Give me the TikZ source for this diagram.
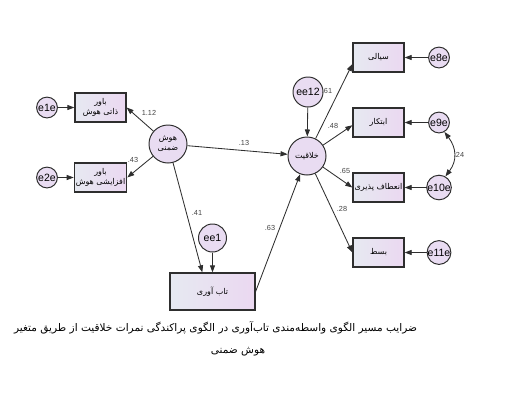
\documentclass[tikz,border=0pt]{standalone}
\usepackage{fontspec}
\setmainfont{Liberation Sans}
\newfontfamily\fa[Script=Arabic]{DejaVu Sans}
\TeXXeTstate=1
\usetikzlibrary{arrows.meta}
\definecolor{edge}{HTML}{2E2E2E}
\definecolor{boxleft}{HTML}{E6E9F1}
\definecolor{boxright}{HTML}{EBD8F1}
\definecolor{lilac}{HTML}{E9DCF2}
\definecolor{coefgray}{HTML}{444444}
\newcommand{\fat}[1]{{\fa\beginR #1\endR}}

\begin{document}
\begin{tikzpicture}[x=0.025cm,y=-0.025cm,
  obs/.style={draw=edge,line width=0.9pt,left color=boxleft,right color=boxright,minimum width=1.275cm,minimum height=0.725cm,inner sep=1pt,align=center,font=\fontsize{5.7}{7}\selectfont},
  lat/.style={circle,draw=edge,line width=0.7pt,fill=lilac,minimum size=0.95cm,inner sep=0pt,align=center,font=\fontsize{5.7}{7}\selectfont},
  err/.style={circle,draw=edge,line width=0.7pt,fill=lilac,minimum size=0.52cm,inner sep=0pt,font=\fontsize{7.5}{8}\selectfont},
  reg/.style={draw=edge,line width=0.6pt,-{Triangle[length=5pt,width=3.6pt]}},
  cov/.style={draw=edge,line width=0.6pt,{Triangle[length=5pt,width=3.6pt]}-{Triangle[length=5pt,width=3.6pt]}},
  coef/.style={text=coefgray,font=\fontsize{5.2}{6}\selectfont,inner sep=0pt}]
\useasboundingbox (0,0) rectangle (514,404);
% exogenous side
\node[obs] (b1) at (100.5,107.5) {\fat{باور}\\\fat{ذاتی هوش}};
\node[obs] (b2) at (100.5,177.5) {\fat{باور}\\\fat{افزایشی هوش}};
\node[err] (e1e) at (47,107.5) {e1e}; \node[err] (e2e) at (47,177.5) {e2e};
\node[lat] (hz) at (168,144) {\fat{هوش}\\\fat{ضمنی}};
% mediator and outcome
\node[obs,minimum width=2.125cm,minimum height=0.925cm] (ta) at (212.5,291.5) {\fat{تاب آوری}};
\node[err,minimum size=0.7cm] (ee1) at (212.5,238) {ee1};
\node[lat] (kh) at (307,156) {\fat{خلاقیت}};
\node[err,minimum size=0.75cm] (ee12) at (308,92) {ee12};
\node[obs] (sy) at (378.5,57.5) {\fat{سیالی}}; \node[err] (e8e) at (439,57.5) {e8e};
\node[obs] (ab) at (378.5,122.5) {\fat{ابتکار}}; \node[err] (e9e) at (439,122.5) {e9e};
\node[obs] (an) at (378.5,187.5) {\fat{انعطاف پذیری}}; \node[err] (e10e) at (439,187.5) {e10e};
\node[obs] (bs) at (378.5,252.5) {\fat{بسط}}; \node[err] (e11e) at (439,252.5) {e11e};
% paths
\draw[reg] (e1e) -- (b1); \draw[reg] (e2e) -- (b2);
\draw[reg] (hz) -- (b1.east); \draw[reg] (hz) -- (b2.east);
\draw[reg] (hz) -- (kh); \draw[reg] (hz) -- (ta.118); \draw[reg] (ee1) -- (ta);
\draw[reg] (ta.east) -- (kh); \draw[reg] (ee12) -- (kh);
\draw[reg] (kh) -- (sy.194); \draw[reg] (kh) -- (ab.186); \draw[reg] (kh) -- (an.west); \draw[reg] (kh) -- (bs.west);
\draw[reg] (e8e) -- (sy); \draw[reg] (e9e) -- (ab); \draw[reg] (e10e) -- (an); \draw[reg] (e11e) -- (bs);
\draw[cov] (e9e.-60) .. controls +(12,16) and +(12,-16) .. (e10e.60);
% coefficients
\node[coef] (c1) at (149,113) {1.12}; \node[coef] (c2) at (133,160) {.43};
\node[coef] (c3) at (244,143) {.13}; \node[coef] (c4) at (197,213) {.41};
\node[coef] (c5) at (270,228) {.63}; \node[coef] (c6) at (327,91) {.61};
\node[coef] (c7) at (333,126) {.48}; \node[coef] (c8) at (345,171) {.65};
\node[coef] (c9) at (342,209) {.28}; \node[coef] (c10) at (459,155) {.24};
% caption
\node[anchor=east,font=\fontsize{7.5}{10}\selectfont] (cap1) at (422,328) {\fat{ضرایب مسیر الگوی واسطه^^^^200cمندی تاب^^^^200cآوری در الگوی پراکندگی نمرات خلاقیت از طریق متغیر}};
\node[font=\fontsize{7.5}{10}\selectfont] (cap2) at (238,352) {\fat{هوش ضمنی}};
\end{tikzpicture}
\end{document}
